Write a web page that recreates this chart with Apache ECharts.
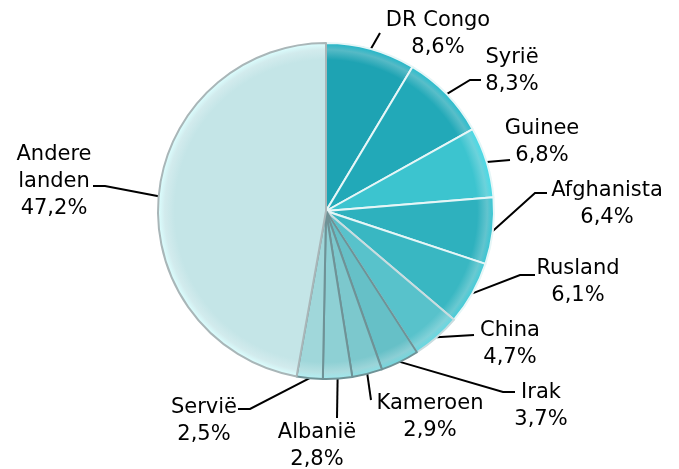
<!DOCTYPE html>
<html>
<head>
<meta charset="utf-8">
<script src="https://cdn.jsdelivr.net/npm/echarts@6/dist/echarts.min.js"></script>
<style>
  html, body { margin: 0; padding: 0; background: #fff; }
  #chart { width: 679px; height: 469px; }
</style>
</head>
<body>
<div id="chart"></div>
<script>
// landen en aandelen (%)
const countries = ['DR Congo', 'Syrië', 'Guinee', 'Afghanista', 'Rusland', 'China', 'Irak', 'Kameroen', 'Albanië', 'Servië', 'Andere\nlanden']
const shares = [8.6, 8.3, 6.8, 6.4, 6.1, 4.7, 3.7, 2.9, 2.8, 2.5, 47.2]

// kleuren per segment
const colors = ['#1ea3b3', '#22a9b8', '#3cc4cf', '#2eb1be', '#39b7c2', '#58c2cb', '#66c0c7', '#7cc8cd', '#8ed0d4', '#a0d7da', '#c4e5e7']
const borders = ['#e6f6f7', '#e6f6f7', '#e6f6f7', '#e6f6f7', '#e6f6f7', '#c9dcdf', '#6f9296', '#6f9296', '#6f9296', '#6f9296', '#a9b6b8']

// labelposities (midden van tekstblok), knikpunt en eindpunt van de lijn
const labelPos = [
  [438, 34], [512, 71], [542, 142], [607, 204], [578, 282], [510, 344],
  [541, 406], [430, 417], [317, 446], [204, 421], [54, 182]
]
const lineBend = [null, [470, 80], null, [535, 193], [520, 275], null, [503, 392], null, null, [250, 409], [105, 186]]
const lineEnd = [[380, 33], [481, 80], [510, 160], [547, 193], [535, 275], [474, 335], [515, 392], [371, 400], [337, 418], [238, 409], [93, 186]]

const CX = 326, CY = 211, R = 168

function fill (c) {
  return {
    type: 'radial', x: CX, y: CY, r: R, global: true,
    colorStops: [
      { offset: 0, color: c },
      { offset: 0.9, color: c },
      { offset: 0.96, color: echarts.color.lift(c, 0.25) },
      { offset: 1, color: echarts.color.lift(c, -0.12) }
    ]
  }
}

const chart = echarts.init(document.getElementById('chart'))

const option = {
  animation: false,
  series: [{
    type: 'pie',
    center: [CX, CY],
    radius: R,
    startAngle: 90,
    clockwise: true,
    data: countries.map((c, i) => ({
      name: c,
      value: shares[i],
      itemStyle: {
        color: fill(colors[i]),
        borderColor: borders[i],
        borderWidth: 2
      }
    })),
    label: {
      show: true,
      color: '#000',
      fontFamily: 'DejaVu Sans',
      fontSize: 21,
      lineHeight: 27,
      align: 'center',
      formatter: p => p.name + '\n' + p.value.toFixed(1).replace('.', ',') + '%'
    },
    labelLine: {
      show: true,
      lineStyle: { color: '#000', width: 2 }
    },
    labelLayout: p => {
      const i = p.dataIndex
      const pts = [p.labelLinePoints[0]]
      if (lineBend[i]) pts.push(lineBend[i])
      pts.push(lineEnd[i])
      return {
        x: labelPos[i][0],
        y: labelPos[i][1],
        align: 'center',
        verticalAlign: 'middle',
        labelLinePoints: pts
      }
    }
  }]
}

chart.setOption(option)
</script>
</body>
</html>
